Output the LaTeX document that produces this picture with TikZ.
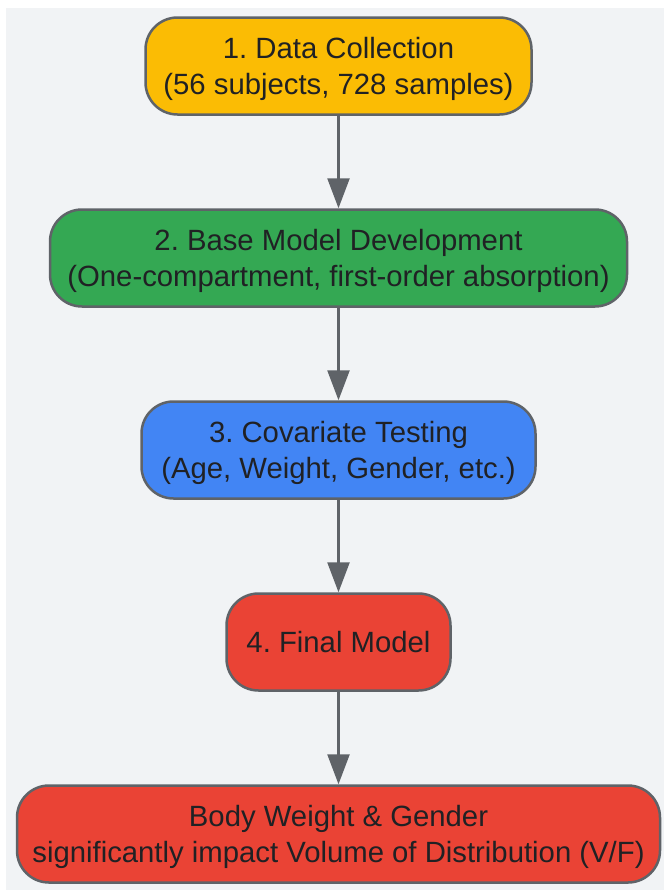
\documentclass[tikz,border=0pt]{standalone}
\usepackage{fontspec}
\setmainfont{Liberation Sans}
\usepackage{tikz}
\usetikzlibrary{arrows.meta,positioning}
\definecolor{bggray}{HTML}{F1F3F5}
\definecolor{edgegray}{HTML}{5F6368}
\definecolor{txtdark}{HTML}{202124}
\definecolor{gyellow}{HTML}{FBBC04}
\definecolor{ggreen}{HTML}{34A853}
\definecolor{gblue}{HTML}{4285F4}
\definecolor{gred}{HTML}{EA4335}
\frenchspacing
\begin{document}
\begin{tikzpicture}[x=1pt,y=-1pt,
        stage/.style={draw=edgegray,line width=2.5pt,rounded corners=32pt,
            minimum height=97pt,inner sep=0pt,align=center,text=txtdark,
            text depth=0pt,font=\fontsize{29.3}{36}\selectfont},
        flow/.style={draw=edgegray,line width=2.5pt,-{Triangle[width=22pt,length=30pt]}},
        node distance=92.5pt
    ]
        \useasboundingbox (0,0) rectangle (664,892);
        \fill[bggray] (6,8) rectangle (664,890);
        \node[stage,fill=gyellow,minimum width=386pt] (collect) at (338.5,66)
            {1. Data Collection\\(56 subjects, 728 samples)};
        \node[stage,fill=ggreen,minimum width=577pt,below=of collect] (base)
            {2. Base Model Development\\(One-compartment, first-order absorption)};
        \node[stage,fill=gblue,minimum width=394pt,below=of base] (covar)
            {3. Covariate Testing\\(Age, Weight, Gender, etc.)};
        \node[stage,fill=gred,minimum width=224pt,below=of covar] (final)
            {4. Final Model};
        \node[stage,fill=gred,minimum width=643pt,below=of final] (result)
            {Body Weight \& Gender\\significantly impact Volume of Distribution (V/F)};
        \foreach \a/\b in {collect/base,base/covar,covar/final,final/result} {
            \draw[flow] (\a) -- (\b);
        }
    \end{tikzpicture}
\end{document}
